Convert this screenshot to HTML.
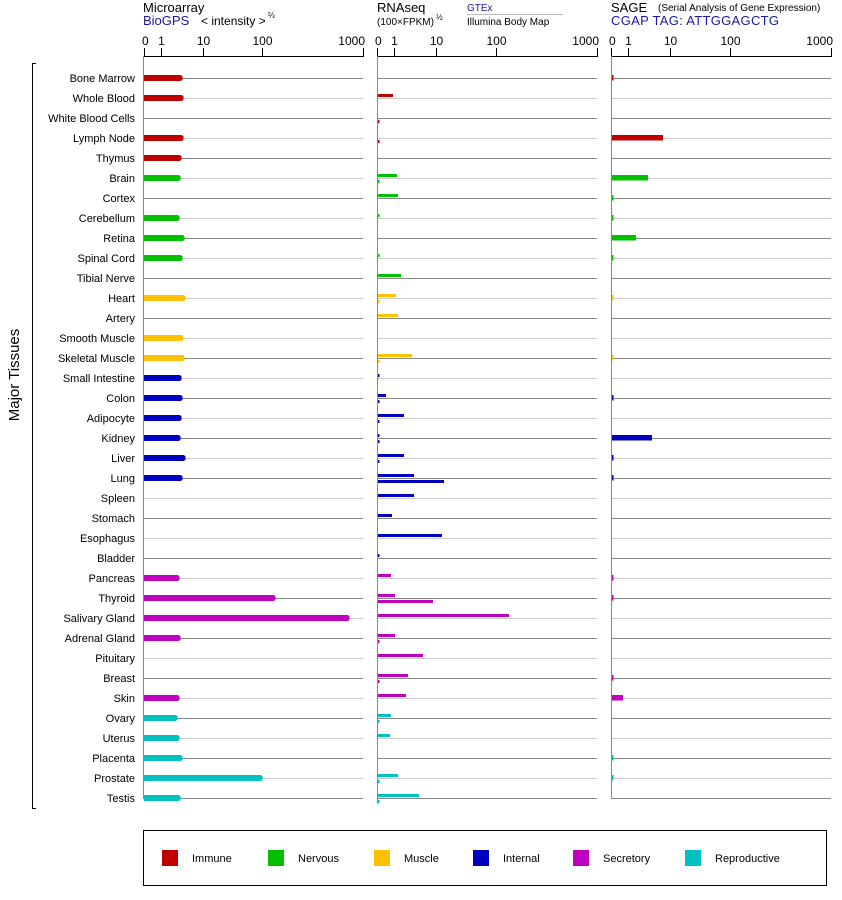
<!DOCTYPE html>
<html><head><meta charset="utf-8"><style>
html,body{margin:0;padding:0;background:#fff;width:842px;height:900px;overflow:hidden}
svg{display:block;font-family:"Liberation Sans",Arial,sans-serif}
</style></head><body>
<svg id="s" width="842" height="900" xmlns="http://www.w3.org/2000/svg">
<text x="143" y="12" font-size="13">Microarray</text>
<text x="143" y="25" font-size="13" fill="#1a1aa6">BioGPS</text>
<text x="201" y="25" font-size="12">&lt; intensity &gt;</text>
<text x="268" y="18" font-size="8">⅔</text>
<text x="377" y="12" font-size="13">RNAseq</text>
<text x="377" y="25" font-size="10">(100×FPKM)</text>
<text x="436" y="20" font-size="8">½</text>
<text x="467" y="11" font-size="10" fill="#1a1aa6">GTEx</text>
<line x1="467" y1="14.5" x2="563" y2="14.5" stroke="#bbb"/>
<text x="467" y="25" font-size="10">Illumina Body Map</text>
<text x="611" y="12" font-size="13">SAGE</text>
<text x="658" y="11" font-size="10">(Serial Analysis of Gene Expression)</text>
<text x="611" y="25" font-size="13" fill="#1a1aa6" letter-spacing="0.3">CGAP TAG: ATTGGAGCTG</text>
<text transform="translate(19,375) rotate(-90)" font-size="15" text-anchor="middle">Major Tissues</text>
<path d="M36 63.5H32.5V808.5H36" fill="none" stroke="#000"/>
<rect x="143.5" y="830.5" width="683" height="55" fill="none" stroke="#000"/>
<g id="g"></g>
</svg>
<script>
var NS="http://www.w3.org/2000/svg",g=document.getElementById("g");
function el(t,a,txt){var e=document.createElementNS(NS,t);for(var k in a)e.setAttribute(k,a[k]);if(txt)e.textContent=txt;g.appendChild(e);return e;}
var labels=["Bone Marrow","Whole Blood","White Blood Cells","Lymph Node","Thymus","Brain","Cortex","Cerebellum","Retina","Spinal Cord","Tibial Nerve","Heart","Artery","Smooth Muscle","Skeletal Muscle","Small Intestine","Colon","Adipocyte","Kidney","Liver","Lung","Spleen","Stomach","Esophagus","Bladder","Pancreas","Thyroid","Salivary Gland","Adrenal Gland","Pituitary","Breast","Skin","Ovary","Uterus","Placenta","Prostate","Testis"];
var cat=[0,0,0,0,0,1,1,1,1,1,1,2,2,2,2,3,3,3,3,3,3,3,3,3,3,4,4,4,4,4,4,4,5,5,5,5,5];
var C=["#c00000","#00c000","#ffc000","#0000c0","#c000c0","#00c0c0"];
var micro=[181,182,0,182,180,179,0,178,183,181,0,184,0,182,183,180,181,180,179,184,181,0,0,0,0,178,274,348,179,0,0,178,176,178,181,261,179];
var gt=[0,15,0,0,0,19,20,1.5,0,1.5,23,18,20,0,34,1.5,8,26,1.5,26,36,36,14,64,1.5,13,17,131,17,45,30,28,13,12,0,20,41];
var il=[0,0,1.5,1.5,0,1.5,0,0,0,0,0,1.5,0,0,1.5,0,1.5,1.5,1.5,1.5,66,0,0,0,0,0,55,0,1.5,0,1.5,0,1.5,0,0,1.5,1.5];
var sage=[613.5,0,0,663,0,648,613.5,613.5,636,613.5,0,613.5,0,0,613.5,0,613.5,0,652,613.5,613.5,0,0,0,0,613.5,613.5,0,0,0,613.5,623,0,0,613.5,613.5,0];
[[144,363],[377,597],[611,831]].forEach(function(p){
  var x0=p[0],w=p[1]-p[0];
  el("line",{x1:x0,y1:56.5,x2:p[1],y2:56.5,stroke:"#000"});
  [[0,"0"],[0.078,"1"],[0.27,"10"],[0.54,"100"],[1,"1000"]].forEach(function(t){
    var x=Math.round(x0+t[0]*w)+0.5;
    el("line",{x1:x,y1:48,x2:x,y2:57,stroke:"#000"});
    var a=t[1]=="0"?"start":(t[1]=="1000"?"end":"middle");
    el("text",{x:t[1]=="0"?x0-2:(t[1]=="1000"?p[1]+2:x),y:45,"font-size":12,"text-anchor":a},t[1]);
  });
});
for(var i=0;i<37;i++){
  var y=78+i*20,col=C[cat[i]],lc=i%2==0?"#888":"#ccc";
  el("text",{x:135,y:y+4,"font-size":11,"text-anchor":"end"},labels[i]);
  el("line",{x1:144,y1:y+0.5,x2:363,y2:y+0.5,stroke:lc});
  el("line",{x1:377,y1:y+0.5,x2:597,y2:y+0.5,stroke:lc});
  el("line",{x1:611,y1:y+0.5,x2:831,y2:y+0.5,stroke:lc});
  if(micro[i]){el("rect",{x:144,y:y-3,width:micro[i]-144,height:6,fill:col});el("rect",{x:micro[i]-1,y:y-2.5,width:2.5,height:5,fill:col,rx:1});}
  if(gt[i])el("rect",{x:378,y:y-4,width:gt[i],height:3,fill:col});
  if(il[i])el("rect",{x:378,y:y+2,width:il[i],height:3,fill:col});
  if(sage[i]){el("rect",{x:611,y:y-3,width:sage[i]-611,height:5.5,fill:col});}
}
el("line",{x1:143.5,y1:56,x2:143.5,y2:799,stroke:"#888"});
el("line",{x1:377.5,y1:56,x2:377.5,y2:804,stroke:"#888"});
el("line",{x1:611.5,y1:56,x2:611.5,y2:799,stroke:"#888"});
var lg=[[162,"Immune"],[268,"Nervous"],[374,"Muscle"],[473,"Internal"],[573,"Secretory"],[685,"Reproductive"]];
lg.forEach(function(l,k){el("rect",{x:l[0],y:850,width:16,height:16,fill:C[k]});el("text",{x:l[0]+30,y:862,"font-size":11},l[1]);});
</script>
</body></html>
